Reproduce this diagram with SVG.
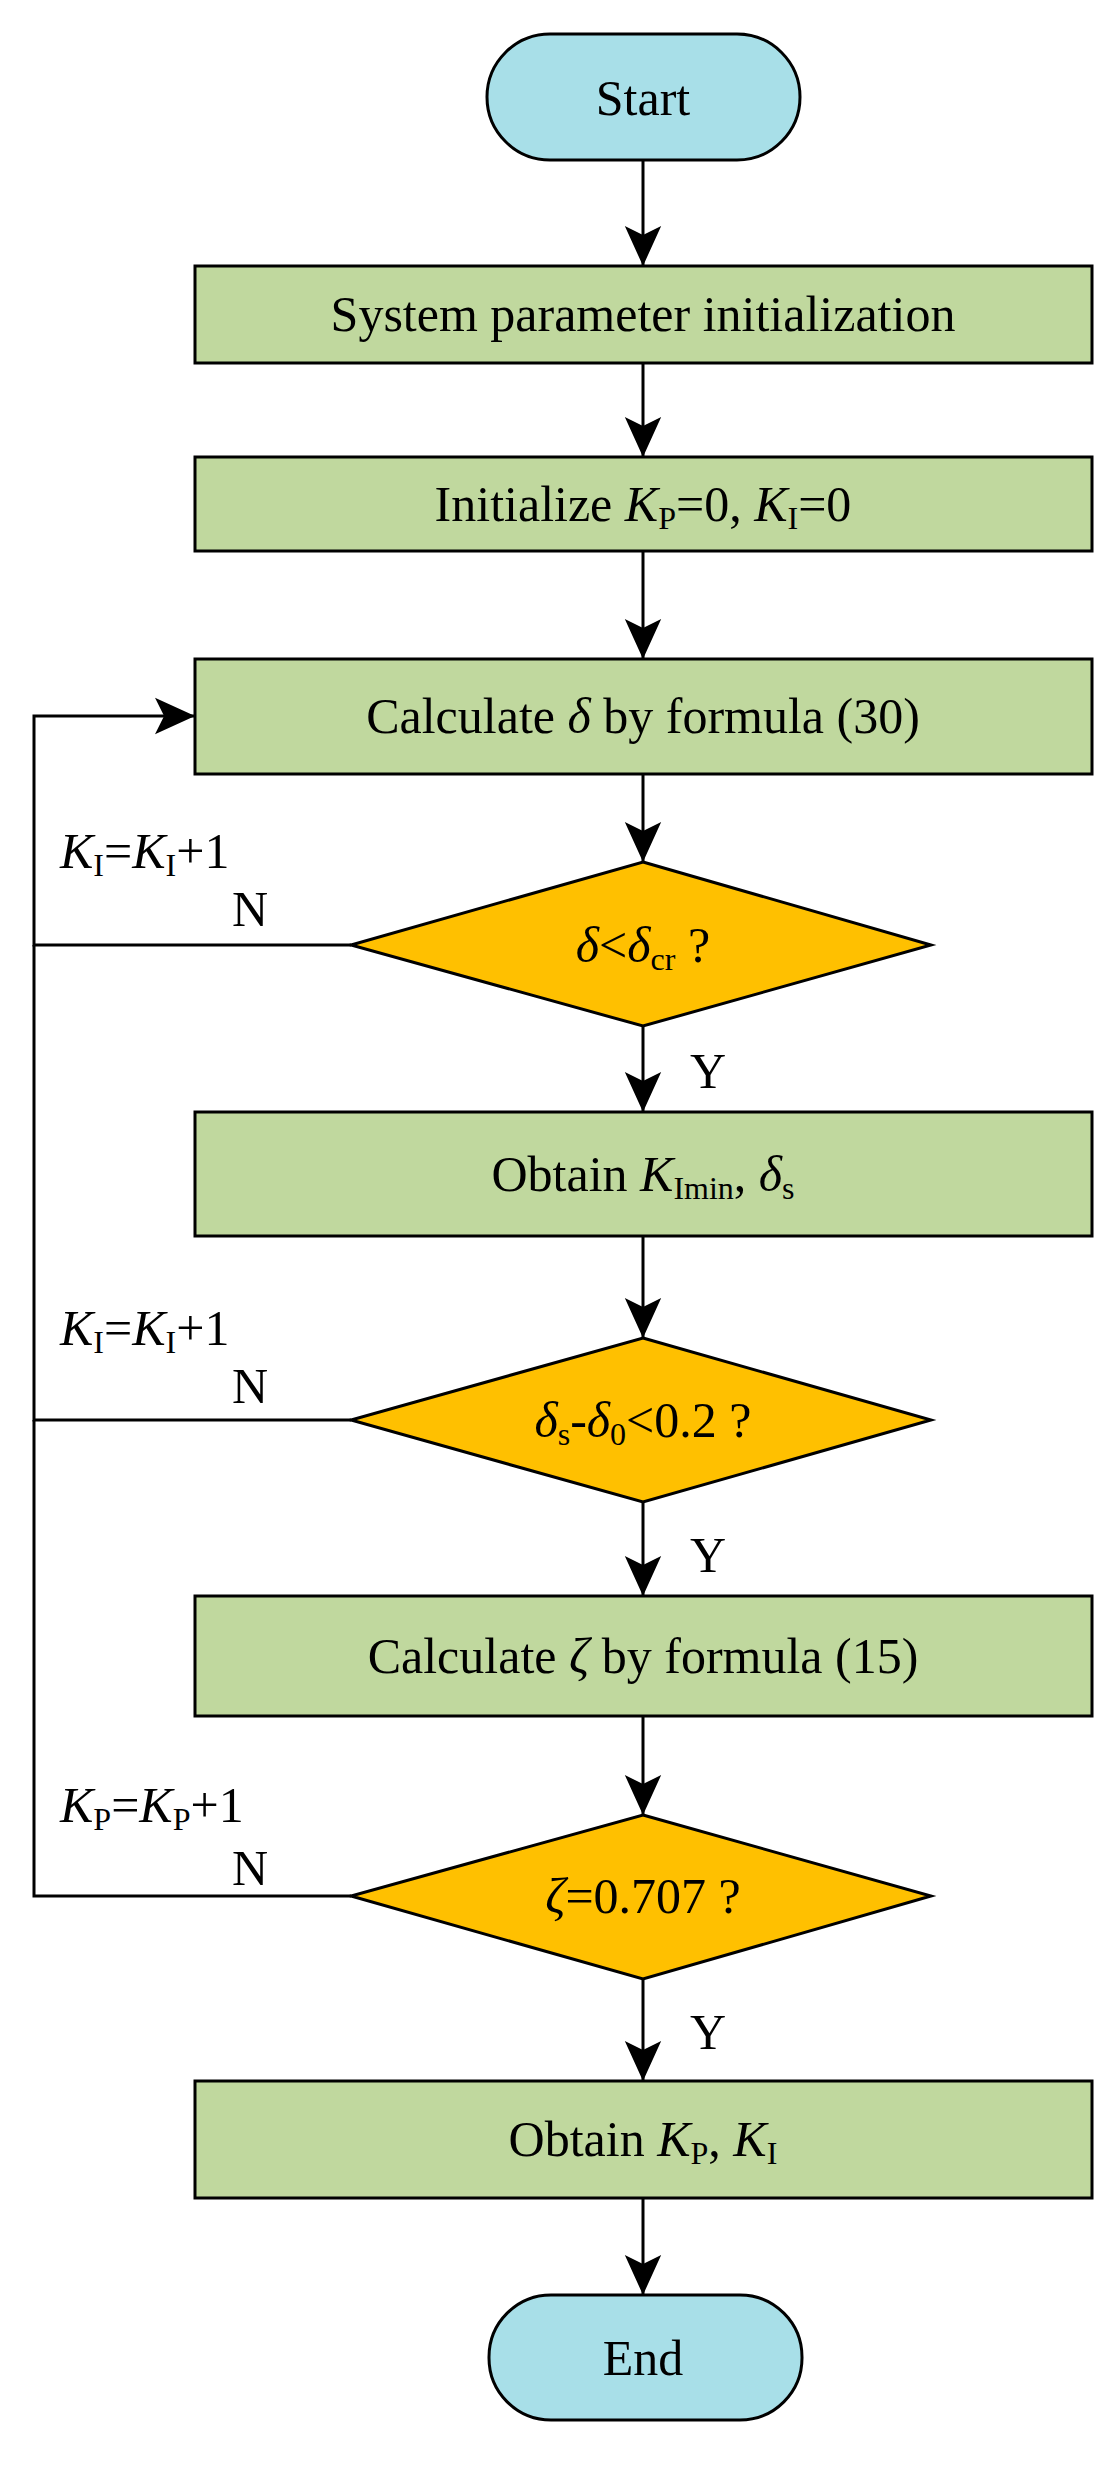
<svg xmlns="http://www.w3.org/2000/svg" width="1117" height="2466" viewBox="0 0 1117 2466">
<style>
text{font-family:"Liberation Serif","Times New Roman",serif;font-size:50px;fill:#000}
.c{text-anchor:middle}
.i{font-style:italic}
.s{font-size:32px}
.box{fill:#c0d89e;stroke:#000;stroke-width:3}
.term{fill:#a8dfe8;stroke:#000;stroke-width:3}
.dia{fill:#ffc000;stroke:#000;stroke-width:3}
.ln{fill:none;stroke:#000;stroke-width:3}
</style>
<defs>
<marker id="a" markerUnits="userSpaceOnUse" markerWidth="40" markerHeight="44" refX="44" refY="20" viewBox="0 0 44 40" orient="auto"><path d="M0,0L44,20L0,40L10,20Z" fill="#000"/></marker>
</defs>
<g id="start"><rect class="term" x="487" y="34" width="313" height="126" rx="63"/><text class="c" x="643" y="115">Start</text></g>
<g id="init1"><rect class="box" x="195" y="266" width="897" height="97"/><text class="c" x="643" y="331">System parameter initialization</text></g>
<g id="init2"><rect class="box" x="195" y="457" width="897" height="94"/><text class="c" x="643" y="521">Initialize <tspan class="i">K</tspan><tspan class="s" dy="8">P</tspan><tspan dy="-8">=0, </tspan><tspan class="i">K</tspan><tspan class="s" dy="8">I</tspan><tspan dy="-8">=0</tspan></text></g>
<g id="calcd"><rect class="box" x="195" y="659" width="897" height="115"/><text class="c" x="643" y="733">Calculate <tspan class="i">δ</tspan> by formula (30)</text></g>
<g id="d1"><polygon class="dia" points="643,862 931,945 643,1026 351,945"/><text class="c" x="643" y="962"><tspan class="i">δ</tspan>&lt;<tspan class="i">δ</tspan><tspan class="s" dy="8">cr</tspan><tspan dy="-8"> ?</tspan></text></g>
<g id="obt1"><rect class="box" x="195" y="1112" width="897" height="124"/><text class="c" x="643" y="1191">Obtain <tspan class="i">K</tspan><tspan class="s" dy="8">Imin</tspan><tspan dy="-8">, </tspan><tspan class="i">δ</tspan><tspan class="s" dy="8">s</tspan></text></g>
<g id="d2"><polygon class="dia" points="643,1338 931,1420 643,1502 351,1420"/><text class="c" x="643" y="1437"><tspan class="i">δ</tspan><tspan class="s" dy="8">s</tspan><tspan dy="-8">-</tspan><tspan class="i">δ</tspan><tspan class="s" dy="8">0</tspan><tspan dy="-8">&lt;0.2 ?</tspan></text></g>
<g id="calcz"><rect class="box" x="195" y="1596" width="897" height="120"/><text class="c" x="643" y="1673">Calculate <tspan class="i">ζ</tspan> by formula (15)</text></g>
<g id="d3"><polygon class="dia" points="643,1815 931,1896 643,1979 351,1896"/><text class="c" x="643" y="1913"><tspan class="i">ζ</tspan>=0.707 ?</text></g>
<g id="obt2"><rect class="box" x="195" y="2081" width="897" height="117"/><text class="c" x="643" y="2156">Obtain <tspan class="i">K</tspan><tspan class="s" dy="8">P</tspan><tspan dy="-8">, </tspan><tspan class="i">K</tspan><tspan class="s" dy="8">I</tspan></text></g>
<g id="end"><rect class="term" x="489" y="2295" width="313" height="125" rx="62"/><text class="c" x="643" y="2375">End</text></g>
<g id="connectors">
<line class="ln" x1="643" y1="160" x2="643" y2="266" marker-end="url(#a)"/>
<line class="ln" x1="643" y1="363" x2="643" y2="457" marker-end="url(#a)"/>
<line class="ln" x1="643" y1="551" x2="643" y2="659" marker-end="url(#a)"/>
<line class="ln" x1="643" y1="774" x2="643" y2="862" marker-end="url(#a)"/>
<line class="ln" x1="643" y1="1026" x2="643" y2="1112" marker-end="url(#a)"/>
<line class="ln" x1="643" y1="1236" x2="643" y2="1338" marker-end="url(#a)"/>
<line class="ln" x1="643" y1="1502" x2="643" y2="1596" marker-end="url(#a)"/>
<line class="ln" x1="643" y1="1716" x2="643" y2="1815" marker-end="url(#a)"/>
<line class="ln" x1="643" y1="1979" x2="643" y2="2081" marker-end="url(#a)"/>
<line class="ln" x1="643" y1="2198" x2="643" y2="2295" marker-end="url(#a)"/>
<polyline class="ln" points="351,945 34,945 34,716 195,716" marker-end="url(#a)"/>
<polyline class="ln" points="351,1420 34,1420 34,945"/>
<polyline class="ln" points="351,1896 34,1896 34,1420"/>
<text x="60" y="868"><tspan class="i">K</tspan><tspan class="s" dy="8">I</tspan><tspan dy="-8">=</tspan><tspan class="i">K</tspan><tspan class="s" dy="8">I</tspan><tspan dy="-8">+1</tspan></text>
<text x="232" y="926">N</text>
<text x="690" y="1088">Y</text>
<text x="60" y="1345"><tspan class="i">K</tspan><tspan class="s" dy="8">I</tspan><tspan dy="-8">=</tspan><tspan class="i">K</tspan><tspan class="s" dy="8">I</tspan><tspan dy="-8">+1</tspan></text>
<text x="232" y="1403">N</text>
<text x="690" y="1572">Y</text>
<text x="60" y="1822"><tspan class="i">K</tspan><tspan class="s" dy="8">P</tspan><tspan dy="-8">=</tspan><tspan class="i">K</tspan><tspan class="s" dy="8">P</tspan><tspan dy="-8">+1</tspan></text>
<text x="232" y="1885">N</text>
<text x="690" y="2049">Y</text>
</g>
</svg>
